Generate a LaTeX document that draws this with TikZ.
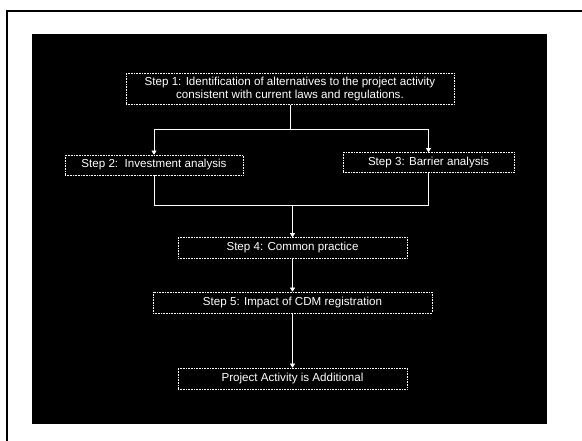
\documentclass[tikz,border=0pt]{standalone}
\usepackage{fontspec}
\setmainfont{Liberation Sans}
\usetikzlibrary{arrows.meta}
\tikzset{
  stepbox/.style={draw=white, densely dotted, line width=0.6pt, text=white,
    inner sep=0pt, align=center, font=\fontsize{11.6}{13.5}\selectfont},
  wire/.style={draw=white, line width=0.6pt},
  flow/.style={wire, -{Triangle[width=5pt,length=4pt]}}
}
\begin{document}
\begin{tikzpicture}[x=1pt, y=-1pt]
            \useasboundingbox[fill=white] (0,0) rectangle (582,441);
            \fill[black] (32,34) rectangle (547,424);
            \draw[line width=1.5pt] (582,11) -- (7,11) -- (7,441);

            \node[stepbox, minimum width=328pt, minimum height=31pt] (s1) at (290,89)
              {Step 1: Identification of alternatives to the project activity\\consistent with current laws and regulations.};
            \node[stepbox, minimum width=178pt, minimum height=20pt] (s2) at (154,165) {Step 2:\ \ Investment analysis};
            \node[stepbox, minimum width=171pt, minimum height=20pt] (s3) at (428.5,162.5) {Step 3: Barrier analysis};
            \node[stepbox, minimum width=229pt, minimum height=21pt] (s4) at (292.5,248) {Step 4: Common practice};
            \node[stepbox, minimum width=279pt, minimum height=21pt] (s5) at (292.5,302.5) {Step 5: Impact of CDM registration};
            \node[stepbox, minimum width=229pt, minimum height=21pt] (s6) at (292.5,378.5) {Project Activity is Additional};

            \coordinate (split) at (290,129);
            \coordinate (join) at (292.5,205);
            \draw[wire] (s1.south) -- (split);
            \draw[flow] (split) -| (s2.north);
            \draw[flow] (split) -| (s3.north);
            \draw[wire] (s2.south) |- (join);
            \draw[wire] (s3.south) |- (join);
            \draw[flow] (join) -- (s4.north);
            \draw[flow] (s4) -- (s5);
            \draw[flow] (s5) -- (s6);
        \end{tikzpicture}
\end{document}
